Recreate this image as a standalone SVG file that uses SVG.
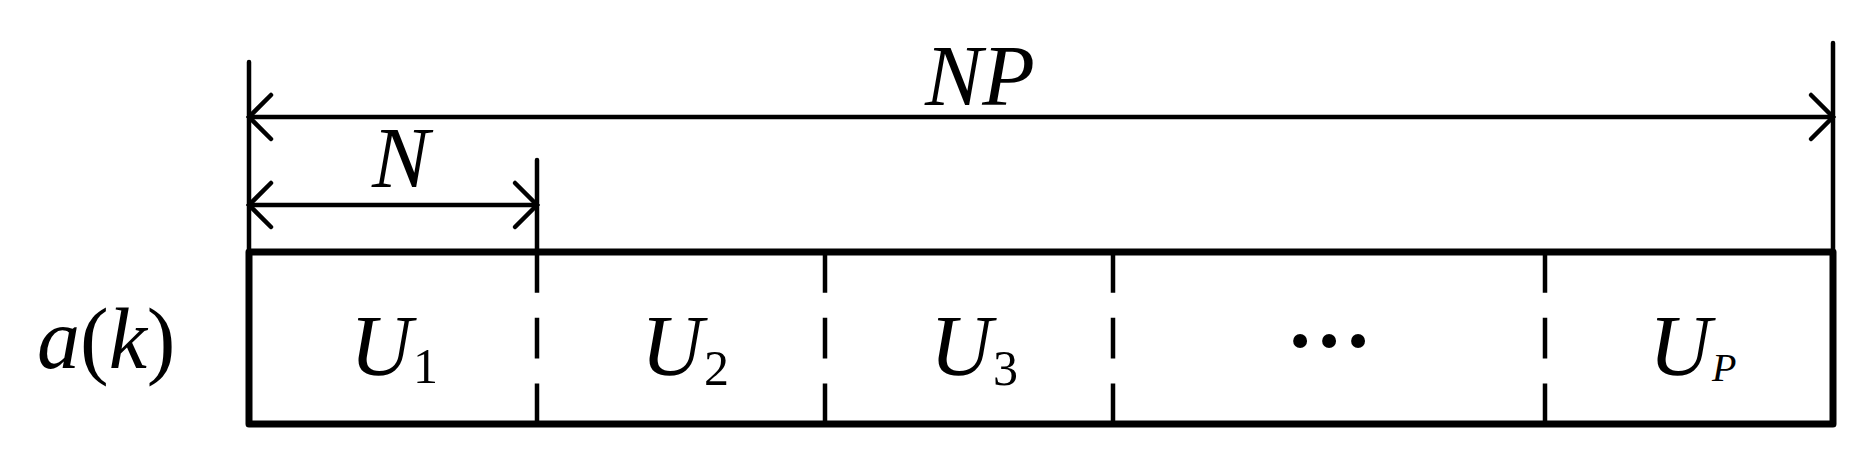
<svg xmlns="http://www.w3.org/2000/svg" width="1866" height="459" viewBox="0 0 1866 459">
<defs>
<style>
.ln{stroke:#000;stroke-width:4.5;fill:none;stroke-linecap:round}
.dash{stroke:#000;stroke-width:4.5;fill:none;stroke-dasharray:40.7 25}
.box{stroke:#000;stroke-width:7;fill:none;stroke-linejoin:round}
.t{font-family:"Liberation Serif","Times New Roman",serif;font-size:86px;fill:#000}
.i{font-style:italic}
.sub{font-size:50px}
.subp{font-size:40px;font-style:italic}
</style>
<marker id="ah" viewBox="-26 -26 30 52" markerWidth="30" markerHeight="52" refX="0" refY="0" orient="auto-start-reverse" markerUnits="userSpaceOnUse">
<path d="M-22,-22 L0,0 L-22,22" stroke="#000" stroke-width="4.5" fill="none" stroke-linecap="round" stroke-linejoin="miter"/>
</marker>
</defs>
<rect id="bg" x="0" y="0" width="1866" height="459" fill="#fff"/>
<g id="connectors">
<line class="ln" x1="249" y1="62" x2="249" y2="252"/>
<line class="ln" x1="1833" y1="43" x2="1833" y2="252"/>
<line class="ln" x1="537" y1="160" x2="537" y2="252"/>
<line class="ln" x1="249" y1="117" x2="1833" y2="117" marker-start="url(#ah)" marker-end="url(#ah)"/>
<line class="ln" x1="249" y1="205" x2="537" y2="205" marker-start="url(#ah)" marker-end="url(#ah)"/>
</g>
<g id="sequence">
<rect class="box" x="249" y="252" width="1584" height="172"/>
<line class="dash" x1="537" y1="252" x2="537" y2="424"/>
<line class="dash" x1="825" y1="252" x2="825" y2="424"/>
<line class="dash" x1="1113" y1="252" x2="1113" y2="424"/>
<line class="dash" x1="1545" y1="252" x2="1545" y2="424"/>
</g>
<g id="label-NP"><text class="t i" x="925" y="105">NP</text></g>
<g id="label-N"><text class="t i" x="372" y="187">N</text></g>
<g id="label-ak"><text class="t" x="37" y="368"><tspan class="i">a</tspan>(<tspan class="i">k</tspan>)</text></g>
<g id="U1"><text class="t i" x="350" y="375">U</text><text class="t sub" x="413" y="383">1</text></g>
<g id="U2"><text class="t i" x="641" y="375">U</text><text class="t sub" x="704" y="385">2</text></g>
<g id="U3"><text class="t i" x="930" y="375">U</text><text class="t sub" x="993" y="385">3</text></g>
<g id="dots"><text class="t" x="1329" y="347" text-anchor="middle" font-weight="bold">…</text></g>
<g id="UP"><text class="t i" x="1649" y="375">U</text><text class="t subp" x="1712" y="381">P</text></g>
</svg>
